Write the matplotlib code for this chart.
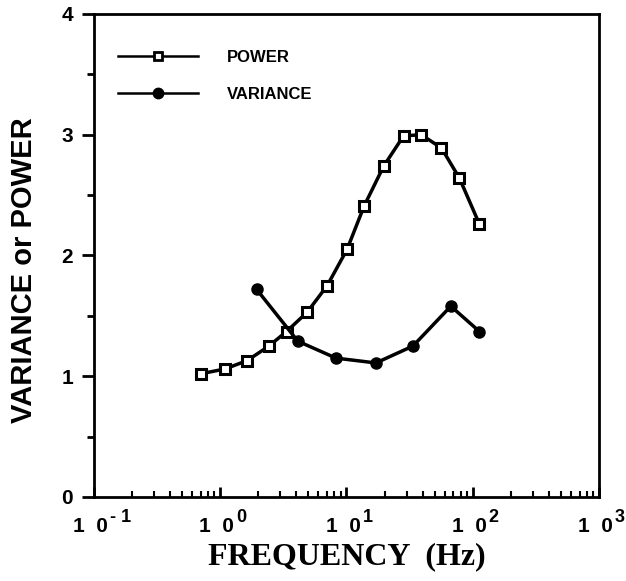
import matplotlib
matplotlib.use("Agg")
import matplotlib.pyplot as plt
from matplotlib.lines import Line2D
from matplotlib.ticker import FixedLocator, NullFormatter

# values
power_freq = [0.70, 1.09, 1.64, 2.43, 3.35, 4.88, 7.03, 10.1, 13.8, 19.7, 28.3, 39.0, 56.5, 78.4, 112.8]
power_val = [1.02, 1.06, 1.13, 1.25, 1.37, 1.53, 1.75, 2.05, 2.41, 2.74, 2.99, 3.00, 2.89, 2.64, 2.26]

var_freq = [1.94, 4.12, 8.26, 17.1, 33.6, 67.0, 113.0]
var_val = [1.72, 1.29, 1.15, 1.11, 1.25, 1.58, 1.37]

y_ticks = [0, 1, 2, 3, 4]
x_decades = [-1, 0, 1, 2, 3]
x_exp_labels = ["- 1", "0", "1", "2", "3"]

fig = plt.figure(figsize=(6.26, 5.81), dpi=100)
ax = fig.add_axes([0.150, 0.1446, 0.807, 0.8314])

ax.plot(power_freq, power_val, color="black", lw=2.5, marker="s", markersize=6.5,
        markerfacecolor="white", markeredgecolor="black", markeredgewidth=2.2)
ax.plot(var_freq, var_val, color="black", lw=2.5, marker="o", markersize=8,
        markerfacecolor="black")

ax.set_xscale("log")
ax.set_xlim(0.1, 1000)
ax.set_ylim(0, 4)

for s in ax.spines.values():
    s.set_linewidth(2)

ax.yaxis.set_major_locator(FixedLocator(y_ticks))
ax.yaxis.set_minor_locator(FixedLocator([0.5, 1.5, 2.5, 3.5]))
ax.tick_params(axis="y", which="major", direction="out", length=9, width=2,
               labelsize=15, pad=6)
ax.tick_params(axis="y", which="minor", direction="out", length=5, width=2)
for lab in ax.get_yticklabels():
    lab.set_fontweight("bold")
    lab.set_family("Liberation Sans")

ax.xaxis.set_major_locator(FixedLocator([10.0 ** d for d in x_decades]))
ax.xaxis.set_major_formatter(NullFormatter())
ax.tick_params(axis="x", which="major", direction="in", length=7, width=2)
ax.tick_params(axis="x", which="minor", direction="in", length=4, width=1.5)

# "1 0" with a big raised exponent, like the original typewriter style labels
for d, e in zip(x_decades, x_exp_labels):
    ax.annotate("1  0", xy=(10.0 ** d, 0), xycoords=("data", "axes fraction"),
                xytext=(-2.5, -21), textcoords="offset points", ha="center",
                va="center", fontsize=15, fontweight="bold",
                family="Liberation Sans")
    ax.annotate(e, xy=(10.0 ** d, 0), xycoords=("data", "axes fraction"),
                xytext=(11.5, -14.5), textcoords="offset points", ha="left",
                va="center", fontsize=13, fontweight="bold",
                family="Liberation Sans")

ax.set_xlabel("FREQUENCY  (Hz)", family="Liberation Serif", fontweight="bold",
              fontsize=23, labelpad=29)
ax.set_ylabel("VARIANCE or POWER", family="Liberation Sans", fontweight="bold",
              fontsize=21)
ax.yaxis.set_label_coords(-0.111, 0.47)

handles = [
    Line2D([], [], color="black", lw=1.8, marker="s", markersize=6,
           markerfacecolor="white", markeredgewidth=2),
    Line2D([], [], color="black", lw=1.8, marker="o", markersize=7.5,
           markerfacecolor="black"),
]
ax.legend(handles, ["POWER", "VARIANCE"], loc="upper left",
          bbox_to_anchor=(0.034, 0.94), borderaxespad=0,
          frameon=False, handlelength=4.8, handletextpad=1.75,
          prop={"family": "Liberation Sans", "size": 12, "weight": "bold"},
          labelspacing=1.35)

fig.savefig("out.png", dpi=100)
